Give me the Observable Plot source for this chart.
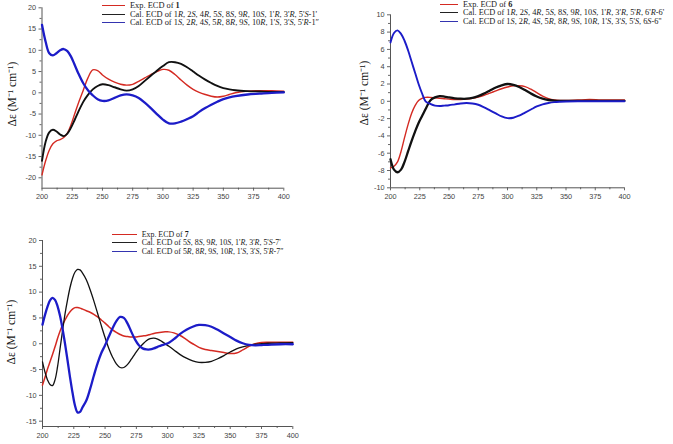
<!DOCTYPE html>
<html><head><meta charset="utf-8">
<script src="https://cdn.jsdelivr.net/npm/d3@7"></script>
<script src="https://cdn.jsdelivr.net/npm/@observablehq/plot@0.6"></script>
<style>
body{margin:0;background:#fff;}
#root{position:relative;width:673px;height:444px;overflow:hidden;font-family:"Liberation Serif","Times New Roman",serif;background:#fff;}
.panel{position:absolute;}
.row{position:absolute;white-space:nowrap;color:#1a1a1a;}
.row i,.row b{display:inline-block;line-height:7px;height:7px;}
.sw{position:absolute;height:1px;}
.ylab{position:absolute;white-space:nowrap;font-family:"Liberation Serif",serif;font-size:11.5px;color:#111;transform:translate(-50%,-50%) rotate(-90deg);}
</style></head>
<body><div id="root"></div>
<script>
// ---------- Panel 1 (compound 1) ----------
const wl1 = [200,203,206,209,212,215,218,221,224,227,230,234,238,242,246,250,255,260,265,270,275,280,285,290,295,300,305,310,315,320,325,330,335,340,345,350,355,360,370,380,390,400];
const exp1 = [-19.3,-16,-13.5,-12,-11.3,-11,-10.5,-9.5,-7.5,-5,-2.5,0.5,3.5,5.4,5.2,4.2,3.2,2.5,2.0,1.8,2.0,2.7,3.5,4.3,5.0,5.5,5.3,4.3,3.0,1.8,0.8,0.1,-0.4,-0.8,-1.0,-0.8,-0.4,0,0.4,0.5,0.5,0.4];
const calA1 = [-16,-11.5,-9.3,-8.7,-9.1,-9.8,-10.2,-9.6,-8.2,-6.4,-4.5,-2.2,-0.5,0.8,1.6,2.0,1.8,1.3,0.8,0.5,0.8,1.6,2.8,4.0,5.2,6.3,7.2,7.2,6.8,6.0,5.0,4.0,3.1,2.3,1.6,1.1,0.8,0.6,0.4,0.3,0.2,0.2];
const calB1 = [16,12,9.3,8.8,9.3,10.0,10.3,9.8,8.5,6.6,4.6,2.3,0.6,-0.6,-1.5,-1.9,-1.8,-1.2,-0.6,-0.35,-0.6,-1.2,-2.3,-3.6,-5.0,-6.3,-7.2,-7.2,-6.8,-6.2,-5.5,-4.5,-3.6,-2.8,-2.1,-1.5,-1.1,-0.8,-0.4,-0.2,0,0.1];
const legend1 = ["Exp. ECD of <b>1</b>",
  "Cal. ECD of 1<i>R</i>, 2<i>S</i>, 4<i>R</i>, 5<i>S</i>, 8<i>S</i>, 9<i>R</i>, 10<i>S</i>, 1'<i>R</i>, 3'<i>R</i>, 5'<i>S</i>-1'",
  "Cal. ECD of 1<i>S</i>, 2<i>R</i>, 4<i>S</i>, 5<i>R</i>, 8<i>R</i>, 9<i>S</i>, 10<i>R</i>, 1'<i>S</i>, 3'<i>S</i>, 5'<i>R</i>-1″"];

// ---------- Panel 2 (compound 6) ----------
const wl6 = [200,203,206,209,212,215,218,221,224,227,230,234,238,242,246,250,255,260,265,270,275,280,285,290,295,300,305,310,315,320,325,330,335,340,345,350,360,370,380,390,400];
const exp6 = [-7.7,-7.5,-7.0,-5.8,-4.2,-2.7,-1.4,-0.5,0.1,0.35,0.45,0.45,0.4,0.35,0.3,0.25,0.2,0.2,0.25,0.35,0.5,0.7,0.95,1.2,1.45,1.65,1.8,1.8,1.7,1.4,1.0,0.6,0.3,0.15,0.1,0.1,0.15,0.2,0.15,0.15,0.15];
const calA6 = [-6.7,-7.9,-8.2,-7.9,-7.0,-5.8,-4.6,-3.5,-2.5,-1.7,-0.9,0.1,0.45,0.6,0.55,0.45,0.35,0.3,0.3,0.4,0.6,0.9,1.25,1.6,1.85,2.0,1.9,1.65,1.3,0.9,0.55,0.3,0.15,0.08,0.05,0.05,0.05,0.05,0.05,0.05,0.05];
const calB6 = [6.8,7.9,8.2,7.8,7.0,5.9,4.6,3.3,2.0,0.9,0.0,-0.3,-0.5,-0.55,-0.5,-0.45,-0.35,-0.25,-0.2,-0.25,-0.4,-0.7,-1.05,-1.4,-1.75,-1.95,-1.9,-1.65,-1.3,-0.95,-0.6,-0.35,-0.2,-0.1,-0.05,-0.02,0,0,0,0,0];
const legend6 = ["Exp. ECD of <b>6</b>",
  "Cal. ECD of 1<i>R</i>, 2<i>S</i>, 4<i>R</i>, 5<i>S</i>, 8<i>S</i>, 9<i>R</i>, 10<i>S</i>, 1'<i>R</i>, 3'<i>R</i>, 5'<i>R</i>, 6'<i>R</i>-6'",
  "Cal. ECD of 1<i>S</i>, 2<i>R</i>, 4<i>S</i>, 5<i>R</i>, 8<i>R</i>, 9<i>S</i>, 10<i>R</i>, 1'<i>S</i>, 3'<i>S</i>, 5'<i>S</i>, 6<i>S</i>-6''"];

// ---------- Panel 3 (compound 7) ----------
const wl7 = [200,202,204,206,208,210,212,214,216,218,220,222,224,226,228,230,232,235,238,241,244,247,250,253,256,259,262,265,268,271,274,277,280,283,286,289,292,295,298,301,305,310,315,320,325,330,335,340,345,350,355,360,365,370,375,380,390,400];
const exp7 = [-8.0,-6.5,-4.9,-3.5,-2.1,-0.6,1.0,2.4,3.6,4.6,5.5,6.2,6.7,7.0,7.0,6.9,6.7,6.4,6.1,5.7,5.2,4.6,4.0,3.3,2.7,2.2,1.8,1.5,1.4,1.3,1.3,1.4,1.5,1.6,1.8,2.0,2.15,2.25,2.3,2.3,2.1,1.6,0.8,0.0,-0.7,-1.1,-1.3,-1.5,-1.7,-1.9,-1.8,-1.2,-0.5,0.0,0.25,0.3,0.3,0.3];
const calA7 = [-3.5,-5.5,-7.0,-7.9,-8.1,-7.0,-4.5,-1.0,2.5,5.8,8.5,10.9,12.7,13.9,14.4,14.3,13.7,12.4,10.5,8.3,5.9,3.5,1.2,-0.9,-2.6,-3.9,-4.6,-4.6,-4.0,-3.0,-1.9,-0.9,-0.1,0.6,1.0,1.1,0.9,0.5,0.0,-0.5,-1.2,-2.1,-2.8,-3.3,-3.6,-3.6,-3.4,-2.9,-2.3,-1.6,-1.0,-0.6,-0.3,-0.1,0.0,0.1,0.15,0.2];
const calB7 = [3.7,5.6,7.2,8.4,8.9,8.5,7.3,5.4,2.9,0.0,-3.2,-6.5,-9.5,-12.0,-13.3,-13.2,-12.3,-11.0,-8.8,-6.2,-3.8,-1.8,-0.3,1.4,3.0,4.4,5.2,5.0,3.9,2.3,0.8,-0.3,-0.9,-1.1,-1.1,-0.9,-0.6,-0.3,-0.1,0.2,0.9,1.9,2.7,3.3,3.65,3.6,3.3,2.7,2.0,1.3,0.6,0.1,-0.2,-0.3,-0.25,-0.2,-0.1,-0.1];
const legend7 = ["Exp. ECD of <b>7</b>",
  "Cal. ECD of 5<i>S</i>, 8<i>S</i>, 9<i>R</i>, 10<i>S</i>, 1'<i>R</i>, 3'<i>R</i>, 5'<i>S</i>-7'",
  "Cal. ECD of 5<i>R</i>, 8<i>R</i>, 9<i>S</i>, 10<i>R</i>, 1'<i>S</i>, 3'<i>S</i>, 5'<i>R</i>-7″"];

const xMajor = [200,225,250,275,300,325,350,375,400];
const xMinor = [212.5,237.5,262.5,287.5,312.5,337.5,362.5,387.5];
const yMajor1 = [-20,-15,-10,-5,0,5,10,15,20];
const yMajor6 = [-10,-8,-6,-4,-2,0,2,4,6,8,10];
const yMajor7 = [-15,-10,-5,0,5,10,15,20];
const yLabel = "Δε (M⁻¹ cm⁻¹)";

const RED = "#d42a22", BLACK = "#111111", BLUE = "#1c1cc8";
const root = document.getElementById("root");

function drawPanel(o) {
  const yMinor = o.yMajor.slice(0,-1).map((v,i)=>(v+o.yMajor[i+1])/2);
  const rows = (vals) => o.wl.map((w,i)=>({w, v: vals[i]}));
  const chart = Plot.plot({
    width: o.width, height: o.height,
    marginLeft: o.mL, marginRight: o.mR, marginTop: o.mT, marginBottom: o.mB,
    style: {fontFamily:"'Liberation Sans', Arial, sans-serif", fontSize:"7.3px", color:"#444", background:"transparent", overflow:"visible"},
    x: {domain:[200,400]},
    y: {domain:o.yDomain},
    marks: [
      Plot.axisX({ticks: xMajor, tickSize: 3, tickPadding: 3, label: null, tickFormat: d=>String(d), stroke:"#666"}),
      Plot.axisX({ticks: xMinor, tickSize: 2, label: null, tickFormat: () => "", stroke:"#666"}),
      Plot.axisY({ticks: o.yMajor, tickSize: 3, tickPadding: 3, label: null, tickFormat: d=>String(d), stroke:"#666"}),
      Plot.axisY({ticks: yMinor, tickSize: 2, label: null, tickFormat: () => "", stroke:"#666"}),
      Plot.ruleX([200], {stroke:"#555", strokeWidth:1}),
      Plot.ruleY([o.yDomain[0]], {stroke:"#555", strokeWidth:1}),
      Plot.line(rows(o.exp), {x:"w", y:"v", stroke:RED, strokeWidth:o.lw[0], curve:"catmull-rom"}),
      Plot.line(rows(o.calA), {x:"w", y:"v", stroke:BLACK, strokeWidth:o.lw[1], curve:"catmull-rom"}),
      Plot.line(rows(o.calB), {x:"w", y:"v", stroke:BLUE, strokeWidth:o.lw[2], curve:"catmull-rom"})
    ]
  });
  const div = document.createElement("div");
  div.className = "panel";
  div.style.left = o.left + "px"; div.style.top = o.top + "px";
  div.appendChild(chart);
  root.appendChild(div);
  // legend
  const cols = [RED, "#222222", "#3434b0"];
  o.legend.forEach((txt,i)=>{
    const yc = Math.round(o.legY[i]);
    const sw = document.createElement("div");
    sw.className = "sw";
    sw.style.left = Math.round(o.legX0) + "px"; sw.style.width = Math.round(o.legX1 - o.legX0) + "px";
    sw.style.top = yc + "px"; sw.style.background = cols[i];
    root.appendChild(sw);
    const r = document.createElement("div");
    r.className = "row";
    r.style.left = o.legTx + "px";
    r.style.fontSize = o.legFs + "px";
    r.style.lineHeight = "7px";
    r.style.top = (yc - 3) + "px";
    r.innerHTML = txt;
    root.appendChild(r);
  });
  const yl = document.createElement("div");
  yl.className = "ylab";
  yl.textContent = yLabel;
  yl.style.left = o.ylx + "px"; yl.style.top = o.yly + "px";
  root.appendChild(yl);
}

drawPanel({wl:wl1, exp:exp1, calA:calA1, calB:calB1, legend:legend1,
  yMajor:yMajor1, yDomain:[-22.45,20], left:0, top:0, width:300, height:215,
  mL:41.5, mR:16.7, mT:7.3, mB:27.3, lw:[1.4,1.9,2.3],
  legX0:101.7, legX1:125, legTx:130, legY:[5.3,13.7,22.3], legFs:8.4, ylx:11, yly:94});

drawPanel({wl:wl6, exp:exp6, calA:calA6, calB:calB6, legend:legend6,
  yMajor:yMajor6, yDomain:[-10,10], left:340, top:0, width:300, height:215,
  mL:50, mR:16, mT:14.3, mB:27.7, lw:[1.4,2.3,1.9],
  legX0:440, legX1:458, legTx:463, legY:[3.6,12.3,21.2], legFs:8.3, ylx:362.5, yly:93});

drawPanel({wl:wl7, exp:exp7, calA:calA7, calB:calB7, legend:legend7,
  yMajor:yMajor7, yDomain:[-16.03,20], left:0, top:222, width:310, height:222,
  mL:42, mR:17.7, mT:18, mB:18, lw:[1.5,1.3,2.3],
  legX0:111.7, legX1:136.7, legTx:141.7, legY:[234,242,251], legFs:7.9, ylx:9.5, yly:332});
</script></body></html>
